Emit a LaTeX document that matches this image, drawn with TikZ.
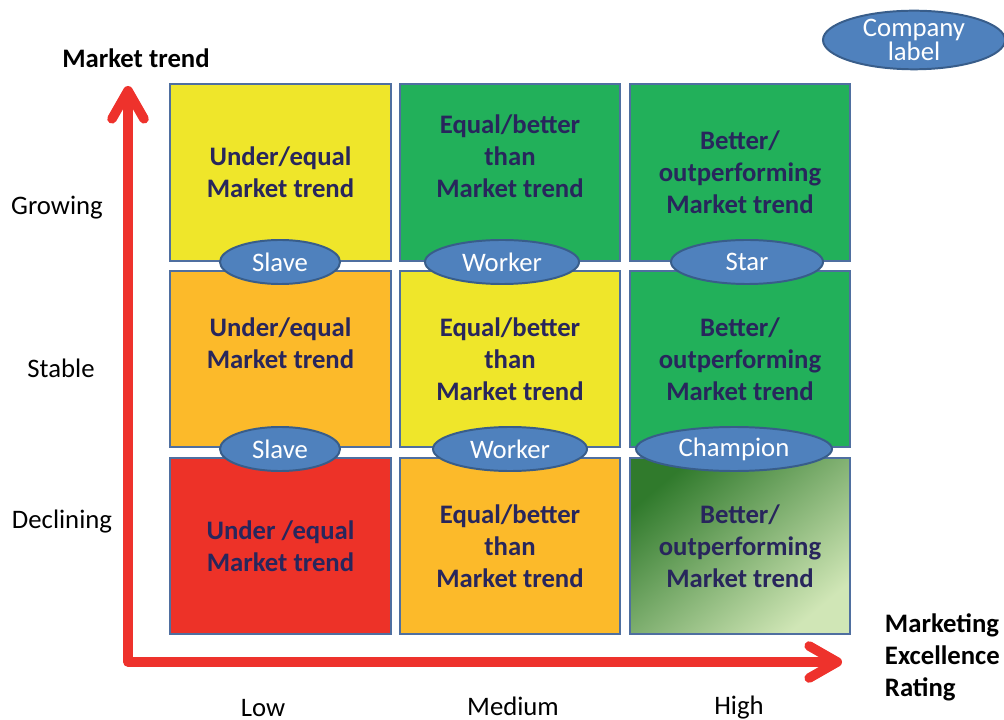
\documentclass[tikz,border=0pt]{standalone}
\usepackage{fontspec}
\setmainfont{Carlito}
\usetikzlibrary{arrows.meta,shapes.geometric}

\definecolor{cellYellow}{RGB}{239,230,42}
\definecolor{cellGreen}{RGB}{34,176,90}
\definecolor{cellOrange}{RGB}{252,186,42}
\definecolor{cellRed}{RGB}{237,50,40}
\definecolor{cellEdge}{RGB}{79,111,160}
\definecolor{cellText}{RGB}{40,38,92}
\definecolor{fadeDark}{RGB}{48,122,44}
\definecolor{fadeMid}{RGB}{122,170,96}
\definecolor{fadeLight}{RGB}{208,230,182}
\definecolor{tagFill}{RGB}{79,129,189}
\definecolor{tagEdge}{RGB}{56,93,138}
\definecolor{axisRed}{RGB}{238,50,44}

\begin{document}
\begin{tikzpicture}[
    x=0.025cm, y=-0.025cm,
    cell/.style={rectangle, draw=cellEdge, line width=1.4pt, minimum width=5.52cm, minimum height=4.42cm, align=center, text=cellText, font=\fontsize{19}{22.8}\selectfont\bfseries},
    tag/.style={ellipse, draw=tagEdge, line width=1.4pt, fill=tagFill, inner sep=0pt, minimum height=1.1cm, text=white, font=\fontsize{19}{20}\selectfont},
    axislabel/.style={font=\fontsize{19}{22.8}\selectfont, align=left},
    axis/.style={line width=0.24cm, draw=axisRed, line join=round, {Straight Barb[length=7mm, width=8mm, round]}-{Straight Barb[length=7mm, width=8mm, round]}}
]
\useasboundingbox (0,0) rectangle (1004,720);

% grid of cells, rows: growing / stable / declining
\node[cell, fill=cellYellow] (growLow) at (280.5,172.5) {Under/equal\\Market trend};
\node[cell, fill=cellGreen] (growMed) at (510,172.5) {Equal/better\\than\\Market trend\\~};
\node[cell, fill=cellGreen] (growHigh) at (740,172.5) {Better/\\outperforming\\Market trend};
\node[cell, fill=cellOrange] (stabLow) at (280.5,359) {Under/equal\\Market trend\\~};
\node[cell, fill=cellYellow] (stabMed) at (510,359) {Equal/better\\than\\Market trend};
\node[cell, fill=cellGreen] (stabHigh) at (740,359) {Better/\\outperforming\\Market trend};
\node[cell, fill=cellRed] (declLow) at (280.5,546) {Under /equal\\Market trend};
\node[cell, fill=cellOrange] (declMed) at (510,546) {Equal/better\\than\\Market trend};
\node[cell, shading=axis, top color=fadeDark, middle color=fadeMid, bottom color=fadeLight, shading angle=40] (declHigh) at (740,546) {Better/\\outperforming\\Market trend};

% company tags on the row borders
\node[tag, minimum width=3cm] (slaveA) at (280,262) {Slave};
\node[tag, minimum width=3.85cm] (workerA) at (502,262) {Worker};
\node[tag, minimum width=3.8cm] (star) at (747,262) {Star};
\node[tag, minimum width=3cm] (slaveB) at (280,449) {Slave};
\node[tag, minimum width=3.85cm] (workerB) at (510,449) {Worker};
\node[tag, minimum width=4.9cm] (champion) at (734,449) {Champion};
\node[tag, minimum width=4.55cm, minimum height=1.25cm, font=\fontsize{19}{17}\selectfont, align=center] (company) at (914,40) {Company\\label};

% axes
\coordinate (origin) at (128,662);
\coordinate (ytip) at (128,86);
\coordinate (xtip) at (842,662);
\draw[axis] (ytip) -- (origin) -- (xtip);

\node[axislabel, font=\fontsize{19}{22.8}\selectfont\bfseries] (ytitle) at (136,58) {Market trend};
\node[axislabel] (growing) at (57,208) {Growing};
\node[axislabel] (stable) at (61,368) {Stable};
\node[axislabel] (declining) at (62,522) {Declining};
\node[axislabel] (low) at (263,708) {Low};
\node[axislabel] (medium) at (513,706) {Medium};
\node[axislabel] (high) at (739,708) {High};
\node[axislabel, anchor=west, font=\fontsize{19}{22.8}\selectfont\bfseries] (xtitle) at (880,657) {Marketing\\Excellence\\Rating};
\end{tikzpicture}
\end{document}
